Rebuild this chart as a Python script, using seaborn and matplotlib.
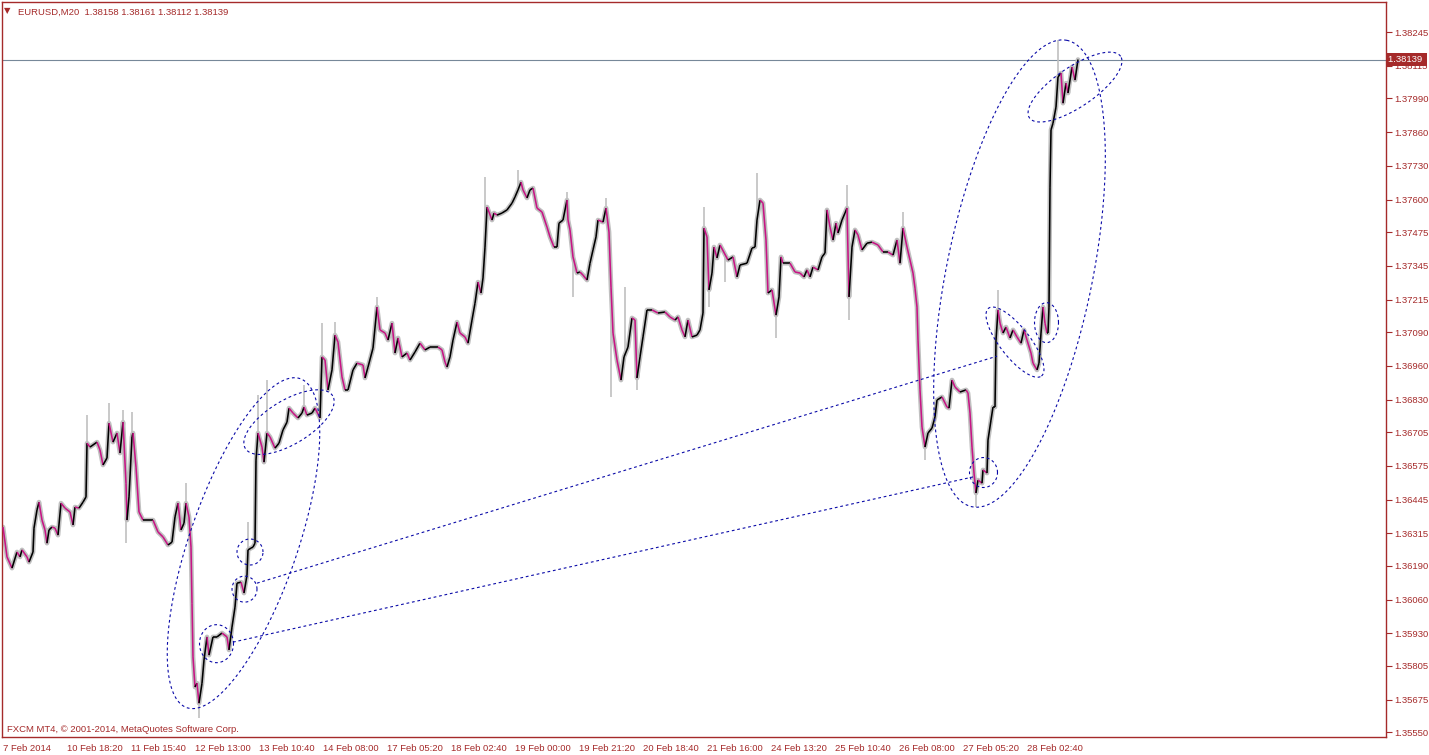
# EURUSD M20 chart (MT4 style) with ellipse / trend line drawings
import numpy as np
import matplotlib
matplotlib.use("Agg")
import matplotlib.pyplot as plt
import seaborn as sns
from matplotlib.collections import LineCollection
from matplotlib.transforms import blended_transform_factory

sns.set_style("white")
plt.rcParams["font.family"] = ["Liberation Sans", "DejaVu Sans"]

# ==============================
# DATA (bar index, closing price)
# ==============================
bars = [
    0, 4, 9, 14, 17, 19, 24, 26, 30, 31, 34, 36, 39, 42, 44, 46, 49, 52, 55, 58,
    62, 67, 70, 72, 76, 80, 83, 84, 87, 94, 97, 100, 104, 106, 110, 114, 117, 120, 123, 124,
    126, 129, 130, 133, 136, 140, 145, 150, 155, 160, 165, 169, 172, 175, 178, 181, 183, 186, 188, 189,
    190, 192, 194, 196, 199, 201, 204, 206, 210, 214, 219, 224, 226, 229, 232, 234, 238, 241, 244, 245,
    248, 250, 252, 253, 255, 259, 261, 264, 267, 272, 276, 280, 284, 286, 290, 295, 299, 301, 304, 309,
    312, 317, 319, 322, 325, 329, 332, 335, 339, 342, 345, 350, 354, 360, 362, 365, 370, 374, 377, 382,
    385, 389, 392, 395, 399, 404, 407, 412, 417, 422, 427, 435, 439, 442, 444, 447, 450, 454, 457, 462,
    465, 469, 472, 475, 478, 480, 482, 484, 486, 489, 491, 494, 499, 504, 509, 512, 515, 518, 520, 524,
    527, 530, 534, 539, 544, 547, 551, 554, 556, 560, 564, 565, 567, 570, 574, 577, 580, 584, 587, 590,
    593, 595, 600, 603, 606, 608, 610, 614, 618, 621, 625, 629, 632, 634, 637, 640, 644, 649, 655, 662,
    667, 672, 675, 679, 682, 685, 689, 694, 697, 700, 701, 704, 706, 709, 711, 714, 717, 725, 730, 734,
    737, 744, 749, 752, 754, 757, 760, 763, 765, 769, 773, 776, 778, 780, 787, 792, 797, 801, 804, 807,
    810, 815, 819, 822, 824, 827, 830, 833, 835, 839, 842, 844, 846, 849, 852, 855, 859, 864, 869, 875,
    880, 885, 890, 894, 897, 900, 904, 907, 910, 912, 914, 915, 917, 919, 922, 925, 929, 932, 934, 939,
    944, 946, 949, 952, 957, 963, 965, 967, 969, 971, 973, 975, 979, 980, 984, 985, 988, 990, 992, 993,
    995, 997, 1000, 1003, 1007, 1010, 1014, 1018, 1021, 1024, 1028, 1030, 1034, 1036, 1038, 1040, 1042, 1044, 1045, 1046,
    1047, 1048, 1050, 1053, 1055, 1058, 1060, 1063, 1065, 1069, 1072, 1075,
]
close = [
    1.36339, 1.36224, 1.36181, 1.36243, 1.36224, 1.36251, 1.36224, 1.36204, 1.36243, 1.36335,
    1.36405, 1.36435, 1.36366, 1.36328, 1.36277, 1.36328, 1.36339, 1.36335, 1.36308, 1.36431,
    1.36412, 1.36397, 1.36347, 1.36416, 1.36412, 1.36435, 1.36455, 1.36662, 1.36647, 1.36666,
    1.36636, 1.36578, 1.36605, 1.36739, 1.36666, 1.36701, 1.36624, 1.36743, 1.36508, 1.36366,
    1.36455, 1.36686, 1.36701, 1.36570, 1.36397, 1.36366, 1.36366, 1.36366, 1.36320, 1.36301,
    1.36270, 1.36281, 1.36378, 1.36431, 1.36328, 1.36354, 1.36431, 1.36378, 1.36262, 1.36046,
    1.35839, 1.35723, 1.35738, 1.35661, 1.35738, 1.35827, 1.35916, 1.35846, 1.35916, 1.35916,
    1.35931, 1.35916, 1.35866, 1.35954, 1.36031, 1.36123, 1.36127, 1.36085, 1.36154, 1.36251,
    1.36258, 1.36262, 1.36277, 1.36597, 1.36701, 1.36647, 1.36589, 1.36701, 1.36686, 1.36643,
    1.36662, 1.36713, 1.36743, 1.36797, 1.36778, 1.36759, 1.36778, 1.36801, 1.36770, 1.36778,
    1.36797, 1.36759, 1.36994, 1.36982, 1.36867, 1.36944, 1.37078, 1.37051, 1.36917, 1.36867,
    1.36867, 1.36944, 1.36970, 1.36963, 1.36913, 1.36955, 1.37028, 1.37186, 1.37098, 1.37086,
    1.37059, 1.37124, 1.37009, 1.37067, 1.36994, 1.37009, 1.36982, 1.37013, 1.37047, 1.37021,
    1.37032, 1.37032, 1.37021, 1.36974, 1.36955, 1.36994, 1.37059, 1.37128, 1.37086, 1.37071,
    1.37047, 1.37136, 1.37201, 1.37282, 1.37240, 1.37298, 1.37417, 1.37571, 1.37552, 1.37521,
    1.37548, 1.37540, 1.37548, 1.37560, 1.37586, 1.37610, 1.37637, 1.37667, 1.37637, 1.37606,
    1.37637, 1.37644, 1.37567, 1.37552, 1.37494, 1.37456, 1.37417, 1.37417, 1.37509, 1.37521,
    1.37598, 1.37521, 1.37483, 1.37379, 1.37317, 1.37321, 1.37309, 1.37290, 1.37355, 1.37406,
    1.37456, 1.37521, 1.37513, 1.37567, 1.37475, 1.37263, 1.37086, 1.36982, 1.36905, 1.36994,
    1.37032, 1.37144, 1.37136, 1.36913, 1.36994, 1.37071, 1.37175, 1.37175, 1.37163, 1.37167,
    1.37148, 1.37136, 1.37148, 1.37098, 1.37071, 1.37136, 1.37071, 1.37078, 1.37098, 1.37163,
    1.37490, 1.37456, 1.37252, 1.37317, 1.37417, 1.37375, 1.37425, 1.37367, 1.37379, 1.37302,
    1.37348, 1.37355, 1.37413, 1.37417, 1.37521, 1.37598, 1.37586, 1.37444, 1.37240, 1.37252,
    1.37155, 1.37225, 1.37379, 1.37355, 1.37355, 1.37321, 1.37317, 1.37302, 1.37329, 1.37302,
    1.37340, 1.37329, 1.37379, 1.37394, 1.37560, 1.37494, 1.37444, 1.37509, 1.37471, 1.37521,
    1.37548, 1.37567, 1.37225, 1.37417, 1.37483, 1.37463, 1.37406, 1.37432, 1.37436, 1.37425,
    1.37398, 1.37398, 1.37386, 1.37444, 1.37355, 1.37490, 1.37417, 1.37367, 1.37317, 1.37259,
    1.37186, 1.37059, 1.36867, 1.36724, 1.36647, 1.36701, 1.36720, 1.36763, 1.36828, 1.36840,
    1.36801, 1.36797, 1.36905, 1.36878, 1.36859, 1.36867, 1.36855, 1.36778, 1.36647, 1.36547,
    1.36470, 1.36520, 1.36508, 1.36559, 1.36547, 1.36674, 1.36751, 1.36801, 1.36801, 1.37059,
    1.37175, 1.37124, 1.37086, 1.37109, 1.37067, 1.37098, 1.37071, 1.37047, 1.37098, 1.37059,
    1.37009, 1.36970, 1.36944, 1.36970, 1.37086, 1.37186, 1.37124, 1.37086, 1.37086, 1.37186,
    1.37648, 1.37868, 1.37894, 1.37956, 1.38072, 1.38087, 1.37971, 1.38048, 1.38010, 1.38110,
    1.38060, 1.38139,
]

# long wicks (bar index, extreme price)
spike_bar = [84, 106, 120, 123, 129, 183, 196, 245, 255, 264, 301, 319, 332, 374, 482, 515,
             564, 570, 603, 608, 622, 634, 701, 706, 722, 754, 773, 844, 846, 900, 922, 973,
             995, 1046, 1055]
spike_price = [1.36770, 1.36816, 1.36790, 1.36277, 1.36782, 1.36508, 1.35604, 1.36358, 1.36847,
               1.36905, 1.36886, 1.37124, 1.37128, 1.37225, 1.37687, 1.37714, 1.37629, 1.37225,
               1.37606, 1.36840, 1.37263, 1.36867, 1.37571, 1.37186, 1.37282, 1.37702, 1.37067,
               1.37656, 1.37136, 1.37552, 1.36597, 1.36416, 1.37252, 1.37302, 1.38214]

last_price = 1.38139
header = "EURUSD,M20  1.38158 1.38161 1.38112 1.38139"
credit = "FXCM MT4, \u00a9 2001-2014, MetaQuotes Software Corp."

date_ticks = [0, 64, 128, 192, 256, 320, 384, 448, 512, 576, 640, 704, 768, 832, 896, 960, 1024]
date_labels = ["7 Feb 2014", "10 Feb 18:20", "11 Feb 15:40", "12 Feb 13:00", "13 Feb 10:40",
               "14 Feb 08:00", "17 Feb 05:20", "18 Feb 02:40", "19 Feb 00:00", "19 Feb 21:20",
               "20 Feb 18:40", "21 Feb 16:00", "24 Feb 13:20", "25 Feb 10:40", "26 Feb 08:00",
               "27 Feb 05:20", "28 Feb 02:40"]
price_labels = ["1.38245", "1.38115", "1.37990", "1.37860", "1.37730", "1.37600", "1.37475",
                "1.37345", "1.37215", "1.37090", "1.36960", "1.36830", "1.36705", "1.36575",
                "1.36445", "1.36315", "1.36190", "1.36060", "1.35930", "1.35805", "1.35675",
                "1.35550"]
price_ticks = [float(s) for s in price_labels]

# drawings: ellipse (center bar, center price, half axis a / b in pixels, angle deg)
ellipses = [
    (240.5, 1.36277, 174, 54, 71),
    (286, 1.36743, 51, 22, 31),
    (213.5, 1.35890, 17, 19, 0),
    (241.5, 1.36100, 12.5, 13, 0),
    (247, 1.36243, 13, 13, 0),
    (1016.5, 1.37315, 238, 73, 78.5),
    (1072, 1.38033, 55, 20, 34),
    (1043.5, 1.37126, 12, 20, 0),
    (1012, 1.37051, 43, 15, -52),
    (980.5, 1.36549, 14, 15, 0),
]
trend_lines = [
    ((254, 1.36123), (994, 1.36997)),
    ((230, 1.35896), (970, 1.36532)),
]

# ==============================
# COLOURS
# ==============================
FRAME = "#A52A2A"
WICK = "#C0C0C0"
BULL = "#000000"
BEAR = "#C71585"
DRAW = "#0A0AA8"

# ==============================
# FIGURE
# ==============================
W, H = 1429, 755
fig = plt.figure(figsize=(W / 100, H / 100), dpi=100)
ax_w, ax_h = 1384, 735
ax = fig.add_axes([2 / W, 18 / H, ax_w / W, ax_h / H])

xmin, xmax = -1, 1383
ymin, ymax = 1.3553075, 1.383605
ax.set_xlim(xmin, xmax)
ax.set_ylim(ymin, ymax)
bar_px = (xmax - xmin) / ax_w
price_px = (ymax - ymin) / ax_h

# grey wick band
sns.lineplot(x=bars, y=close, color=WICK, lw=3.4, sort=False, estimator=None, ax=ax, zorder=2)
base = np.interp(spike_bar, bars, close)
ax.vlines(spike_bar, base, spike_price, color=WICK, lw=1.2, zorder=2)

# candle bodies
b = np.array(bars, dtype=float)
c = np.array(close)
segs = [[(b[i - 1], c[i - 1]), (b[i], c[i])] for i in range(1, len(b))]
cols = [BULL if c[i] >= c[i - 1] else BEAR for i in range(1, len(b))]
ax.add_collection(LineCollection(segs, colors=cols, linewidths=1.15, zorder=3))

# current price line
ax.axhline(last_price, color="#778899", lw=0.8, zorder=1)

# drawings
t = np.linspace(0, 2 * np.pi, 300)
for cx, cy, a, bb, ang in ellipses:
    th = np.deg2rad(ang)
    dx = a * np.cos(t) * np.cos(th) - bb * np.sin(t) * np.sin(th)
    dy = a * np.cos(t) * np.sin(th) + bb * np.sin(t) * np.cos(th)
    ax.plot(cx + dx * bar_px, cy + dy * price_px, color=DRAW, lw=0.8,
            ls=(0, (2.5, 2.5)), zorder=4)
for (x0, y0), (x1, y1) in trend_lines:
    ax.plot([x0, x1], [y0, y1], color=DRAW, lw=0.8, ls=(0, (2.5, 2.5)), zorder=4)

# axes styling
for s in ax.spines.values():
    s.set_color(FRAME)
    s.set_linewidth(1.0)

ax.set_xticks(date_ticks)
ax.set_xticklabels(date_labels, ha="left")
ax.yaxis.tick_right()
ax.set_yticks(price_ticks)
ax.set_yticklabels(price_labels, ha="left")
ax.tick_params(axis="both", direction="out", length=4, width=0.8, color=FRAME,
               labelcolor=FRAME, labelsize=6.8, pad=2)
ax.tick_params(axis="x", pad=1)

# price label on axis
trans = blended_transform_factory(ax.transAxes, ax.transData)
ax.text(1.0015, last_price, "1.38139 ", transform=trans, ha="left", va="center",
        color="white", fontsize=6.8, clip_on=False, zorder=10,
        bbox=dict(boxstyle="square,pad=0.25", fc=FRAME, ec="none"))

# header and credit text
fig.text(4 / W, 1 - 11 / H, "\u25bc", color=FRAME, fontsize=6, va="center", ha="left",
         family="DejaVu Sans")
fig.text(18 / W, 1 - 12 / H, header, color=FRAME, fontsize=6.8, va="center", ha="left")
fig.text(7 / W, 1 - 729 / H, credit, color=FRAME, fontsize=6.8, va="center", ha="left")

fig.savefig("out.png", dpi=100)
